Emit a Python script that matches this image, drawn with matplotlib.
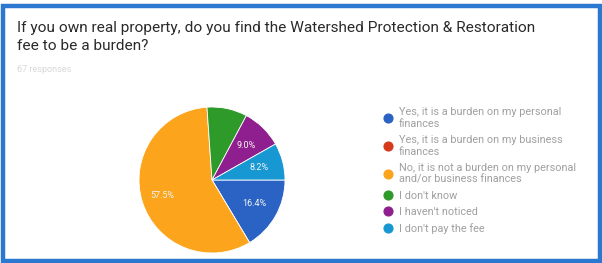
import numpy as np
import matplotlib.pyplot as plt
from matplotlib.lines import Line2D
from matplotlib.patches import Rectangle

# survey answers, in the order the form lists them
answers = [
    "Yes, it is a burden on my personal\nfinances",
    "Yes, it is a burden on my business\nfinances",
    "No, it is not a burden on my personal\nand/or business finances",
    "I don't know",
    "I haven't noticed",
    "I don't pay the fee",
]
shares = [16.4, 0.0, 57.5, 8.9, 9.0, 8.2]
slice_labels = ["16.4%", "", "57.5%", "", "9.0%", "8.2%"]
colors = ["#2a63c4", "#d6391a", "#fba41c", "#2e9a2a", "#8f1f8f", "#1898d2"]

title = ("If you own real property, do you find the Watershed Protection & Restoration\n"
         "fee to be a burden?")
subtitle = "67 responses"

W, H = 602, 263
fig = plt.figure(figsize=(W / 100, H / 100), dpi=100)
fig.patch.set_facecolor("white")

# blue frame around the card
fig.patches.append(Rectangle((2.5 / W, 2.5 / H), (W - 5) / W, (H - 8) / H,
                             transform=fig.transFigure, fill=False,
                             edgecolor="#2a78d0", linewidth=3.2))

fig.text(17 / W, 1 - 21 / H, title, fontsize=11.1, family="Roboto",
         color="#2a2a2a", va="top", ha="left", linespacing=1.32)
fig.text(17 / W, 1 - 65 / H, subtitle, fontsize=6.5, family="Roboto",
         color="#d8d8d8", va="top", ha="left")

# pie, center at (212, 180) px from top-left, radius 73 px
cx, cy, r = 212, 180, 73
ax = fig.add_axes([(cx - r) / W, (H - cy - r) / H, 2 * r / W, 2 * r / H])
wedges, _ = ax.pie(shares, colors=colors, startangle=0, counterclock=False,
                   wedgeprops=dict(edgecolor="white", linewidth=0.6))
ax.set_xlim(-1, 1)
ax.set_ylim(-1, 1)
ax.set_axis_off()

angle = 0.0
total = sum(shares)
for val, txt in zip(shares, slice_labels):
    mid = angle + val / total * 360 / 2
    angle += val / total * 360
    if not txt:
        continue
    rr = 0.72 if val > 40 else 0.66
    ax.text(rr * np.cos(np.radians(-mid)), rr * np.sin(np.radians(-mid)), txt,
            ha="center", va="center", fontsize=6.5, family="Roboto",
            color="#f4f4f4")

handles = [Line2D([], [], marker="o", linestyle="", markersize=6.3,
                  markerfacecolor=c, markeredgecolor=c) for c in colors]
leg = fig.legend(handles, answers, loc="upper left",
                 bbox_to_anchor=(383 / W, 1 - 107 / H), frameon=False,
                 prop=dict(family="Roboto", size=7.8), labelcolor="#a0a0a0",
                 handletextpad=0.45, handlelength=1.0, labelspacing=0.55,
                 borderaxespad=0, borderpad=0)
for t in leg.get_texts():
    t.set_linespacing(1.25)

fig.savefig("out.png", dpi=100)
